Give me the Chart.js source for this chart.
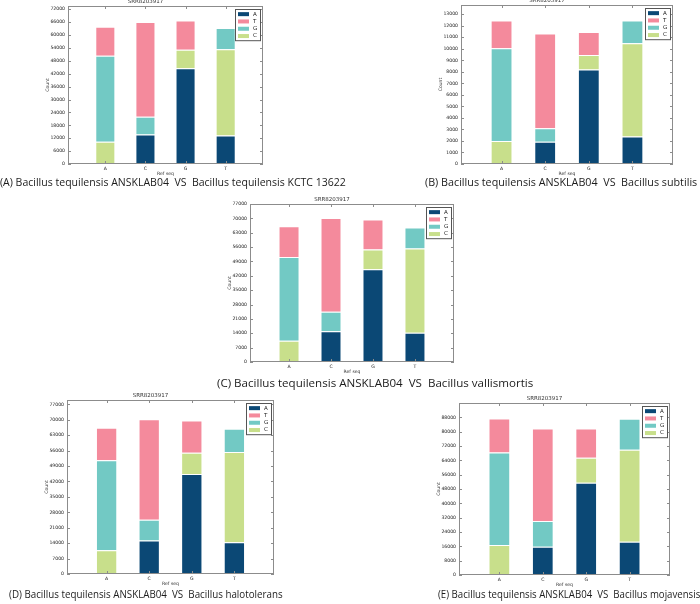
<!DOCTYPE html>
<html>
<head>
<meta charset="utf-8">
<script src="https://cdn.jsdelivr.net/npm/chart.js@4.4.1/dist/chart.umd.min.js"></script>
<style>
  body { margin: 0; background: #fff; width: 700px; height: 604px; position: relative; overflow: hidden; }
  canvas { position: absolute; }
  .cap { position: absolute; white-space: pre; font-family: "Open Sans", sans-serif; font-size: 11.5px;
         line-height: 14px; color: #1c1c1c; transform-origin: 0 50%; }
</style>
</head>
<body>
<script>
// x categories (reference base) and read bases, stacked bottom -> top
const refSeq = ["A", "C", "G", "T"];
const readBases = ["A", "C", "G", "T"];
const legendOrder = ["A", "T", "G", "C"];
const baseColors = { A: "#0b4875", T: "#f48a9c", G: "#72c9c4", C: "#c8df8b" };
const runId = "SRR8203917";

// (A) vs Bacillus tequilensis KCTC 13622
const aA = [0, 13700, 44500, 13300];
const aC = [10400, 0, 8700, 40100];
const aG = [40000, 8300, 0, 9900];
const aT = [13500, 44100, 13500, 0];
const ticksA = [0, 6000, 12000, 18000, 24000, 30000, 36000, 42000, 48000, 54000, 60000, 66000, 72000];

// (B) vs Bacillus subtilis
const bA = [0, 1940, 8210, 2380];
const bC = [2000, 0, 1250, 8100];
const bG = [8040, 1160, 0, 1970];
const bT = [2410, 8220, 2000, 0];
const ticksB = [0, 1000, 2000, 3000, 4000, 5000, 6000, 7000, 8000, 9000, 10000, 11000, 12000, 13000];

// (C) vs Bacillus vallismortis
const cA = [0, 15000, 45200, 14200];
const cC = [10400, 0, 9600, 41100];
const cG = [40800, 9500, 0, 10300];
const cT = [14900, 45700, 14700, 0];
const ticksC = [0, 7000, 14000, 21000, 28000, 35000, 42000, 49000, 56000, 63000, 70000, 77000];

// (D) vs Bacillus halotolerans
const dA = [0, 15200, 45400, 14400];
const dC = [10800, 0, 9600, 41000];
const dG = [40800, 9400, 0, 10500];
const dT = [14800, 45700, 14700, 0];
const ticksD = [0, 7000, 14000, 21000, 28000, 35000, 42000, 49000, 56000, 63000, 70000, 77000];

// (E) vs Bacillus mojavensis
const eA = [0, 15800, 51500, 18600];
const eC = [16800, 0, 13900, 51300];
const eG = [51600, 14400, 0, 17300];
const eT = [19000, 51500, 16400, 0];
const ticksE = [0, 8000, 16000, 24000, 32000, 40000, 48000, 56000, 64000, 72000, 80000, 88000];

const panels = [
  { series: [aA, aC, aG, aT], ticks: ticksA, max: 73500, plot: [68, 6, 263, 164],
    caption: "(A) Bacillus tequilensis ANSKLAB04  VS  Bacillus tequilensis KCTC 13622", cap: [0, 182, 346] },
  { series: [bA, bC, bG, bT], ticks: ticksB, max: 13800, plot: [461, 5, 673, 164],
    caption: "(B) Bacillus tequilensis ANSKLAB04  VS  Bacillus subtilis", cap: [425, 182, 272] },
  { series: [cA, cC, cG, cT], ticks: ticksC, max: 77000, plot: [250, 204, 454, 362],
    caption: "(C) Bacillus tequilensis ANSKLAB04  VS  Bacillus vallismortis", cap: [217, 383, 316] },
  { series: [dA, dC, dG, dT], ticks: ticksD, max: 79000, plot: [67, 400, 274, 574],
    caption: "(D) Bacillus tequilensis ANSKLAB04  VS  Bacillus halotolerans", cap: [9, 594, 274] },
  { series: [eA, eC, eG, eT], ticks: ticksE, max: 96000, plot: [459, 403, 670, 575],
    caption: "(E) Bacillus tequilensis ANSKLAB04  VS  Bacillus mojavensis", cap: [438, 594, 262] }
];

const tickFont = { family: "DejaVu Sans", size: 4.6 };

// box, inward tick marks and the legend, like the matplotlib originals
const framePlugin = {
  id: "frame",
  afterDraw(chart) {
    const { ctx, chartArea: a, scales: { x, y } } = chart;
    ctx.save();
    ctx.strokeStyle = "#8c8c8c";
    ctx.lineWidth = 1;
    ctx.strokeRect(a.left + 0.5, a.top + 0.5, a.right - a.left - 1, a.bottom - a.top - 1);
    ctx.beginPath();
    y.ticks.forEach(t => {
      const py = Math.round(y.getPixelForValue(t.value)) + 0.5;
      ctx.moveTo(a.left, py); ctx.lineTo(a.left + 3, py);
      ctx.moveTo(a.right, py); ctx.lineTo(a.right - 3, py);
    });
    x.ticks.forEach(t => {
      const px = Math.round(x.getPixelForValue(t.value)) + 0.5;
      ctx.moveTo(px, a.bottom); ctx.lineTo(px, a.bottom - 3);
      ctx.moveTo(px, a.top); ctx.lineTo(px, a.top + 3);
    });
    ctx.stroke();

    // legend inside top-right corner
    const w = 25, rowH = 7.3;
    const x0 = a.right - 3 - w, y0 = a.top + 3;
    ctx.fillStyle = "#fff";
    ctx.fillRect(x0, y0, w, rowH * 4 + 2);
    ctx.strokeStyle = "#555";
    ctx.strokeRect(x0 + 0.5, y0 + 0.5, w, rowH * 4 + 2);
    ctx.font = "5.5px 'DejaVu Sans'";
    ctx.textBaseline = "middle";
    legendOrder.forEach((lab, i) => {
      const ds = chart.data.datasets.find(d => d.label === lab);
      const cy = y0 + 1.5 + rowH * (i + 0.5);
      ctx.fillStyle = ds.backgroundColor;
      ctx.fillRect(x0 + 3, cy - 2, 11, 4);
      ctx.fillStyle = "#222";
      ctx.fillText(lab, x0 + 18, cy);
    });
    ctx.restore();
  }
};

panels.forEach(p => {
  const [L, T, R, B] = p.plot;
  const yw = 40, top = 7, xh = 16;
  const cv = document.createElement("canvas");
  cv.width = R - L + yw;
  cv.height = B - T + top + xh;
  cv.style.left = (L - yw) + "px";
  cv.style.top = (T - top) + "px";
  document.body.appendChild(cv);

  new Chart(cv, {
    type: "bar",
    data: {
      datasets: readBases.map((b, k) => ({
        label: b,
        data: p.series[k].map((v, i) => ({ x: i, y: v })),
        backgroundColor: baseColors[b],
        borderColor: "rgba(255,255,255,0.85)",
        borderWidth: 1,
        barPercentage: 0.5,
        categoryPercentage: 1
      }))
    },
    options: {
      responsive: false,
      animation: false,
      devicePixelRatio: 1,
      layout: { padding: 0 },
      plugins: {
        legend: { display: false },
        tooltip: { enabled: false },
        title: {
          display: true, text: runId, color: "#333",
          font: { family: "DejaVu Sans", size: 5.5, lineHeight: 1, weight: "normal" },
          padding: { top: 0, bottom: 1.5 }
        }
      },
      scales: {
        x: {
          type: "linear", min: -0.93, max: 3.93, stacked: true, offset: false,
          grid: { display: false, drawTicks: false, offset: false }, border: { display: false },
          afterBuildTicks: s => { s.ticks = refSeq.map((_, i) => ({ value: i })); },
          ticks: { callback: v => refSeq[v], font: tickFont, color: "#222", padding: 2, maxRotation: 0, autoSkip: false },
          title: { display: true, text: "Ref seq", color: "#333", font: tickFont, padding: { top: 0, bottom: 3.5 } },
          afterFit: s => { s.height = xh; }
        },
        y: {
          stacked: true, min: 0, max: p.max,
          grid: { display: false, drawTicks: false }, border: { display: false },
          afterBuildTicks: s => { s.ticks = p.ticks.map(v => ({ value: v })); },
          ticks: { font: tickFont, color: "#222", padding: 3, callback: v => String(v) },
          title: { display: true, text: "Count", color: "#333", font: tickFont, padding: { top: 17, bottom: 0 } },
          afterFit: s => { s.width = yw; }
        }
      }
    },
    plugins: [framePlugin]
  });

  const el = document.createElement("div");
  el.className = "cap";
  el.textContent = p.caption;
  el.style.left = p.cap[0] + "px";
  el.style.top = (p.cap[1] - 7) + "px";
  document.body.appendChild(el);
  el.style.transform = "scaleX(" + (p.cap[2] / el.offsetWidth) + ")";
});
</script>
</body>
</html>
